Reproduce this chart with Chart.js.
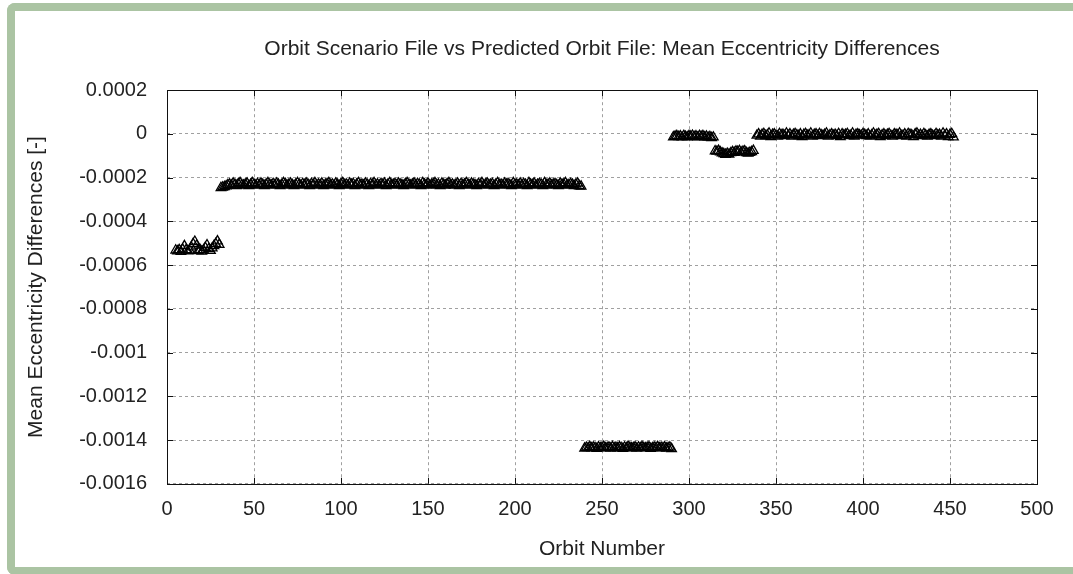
<!DOCTYPE html>
<html>
<head>
<meta charset="utf-8">
<script src="https://cdn.jsdelivr.net/npm/chart.js@4/dist/chart.umd.min.js"></script>
<style>
  html, body { margin: 0; padding: 0; background: #fff; overflow: hidden; }
  #frame {
    position: absolute; left: 7px; top: 3px; width: 1100px; height: 556px;
    border: 8px solid #abc4a3; border-right: none; border-radius: 8px 0 0 8px;
  }
  #chart { position: absolute; left: 0; top: 0; }
</style>
</head>
<body>
<div id="frame"></div>
<canvas id="chart" width="1073" height="574"></canvas>
<script>
// orbit segments: first orbit number + one value per orbit
const seg1Start = 5;
const seg1 = [
  -5.32e-4, -5.36e-4, -5.30e-4, -5.38e-4, -5.28e-4, -5.12e-4, -5.30e-4, -5.36e-4, -5.33e-4, -5.18e-4, -5.02e-4, -4.92e-4, -5.10e-4,
  -5.35e-4, -5.30e-4, -5.37e-4, -5.31e-4, -5.20e-4, -5.08e-4, -5.26e-4, -5.34e-4, -5.22e-4, -5.12e-4, -5.02e-4, -4.90e-4, -5.06e-4
];

const seg2Start = 31;
const seg2 = [
  -2.46e-4, -2.44e-4, -2.42e-4, -2.38e-4, -2.33e-4, -2.30e-4, -2.35e-4, -2.26e-4, -2.31e-4, -2.37e-4, -2.28e-4, -2.24e-4, -2.33e-4,
  -2.35e-4, -2.30e-4, -2.26e-4, -2.37e-4, -2.31e-4, -2.24e-4, -2.30e-4, -2.35e-4, -2.28e-4, -2.33e-4, -2.26e-4, -2.31e-4, -2.37e-4,
  -2.30e-4, -2.24e-4, -2.31e-4, -2.35e-4, -2.28e-4, -2.33e-4, -2.26e-4, -2.30e-4, -2.37e-4, -2.31e-4, -2.24e-4, -2.28e-4, -2.35e-4,
  -2.31e-4, -2.26e-4, -2.33e-4, -2.37e-4, -2.30e-4, -2.24e-4, -2.31e-4, -2.35e-4, -2.28e-4, -2.33e-4, -2.26e-4, -2.30e-4, -2.37e-4,
  -2.28e-4, -2.31e-4, -2.24e-4, -2.35e-4, -2.30e-4, -2.33e-4, -2.26e-4, -2.37e-4, -2.31e-4, -2.28e-4, -2.24e-4, -2.33e-4, -2.30e-4,
  -2.35e-4, -2.26e-4, -2.31e-4, -2.37e-4, -2.28e-4, -2.24e-4, -2.33e-4, -2.30e-4, -2.35e-4, -2.26e-4, -2.31e-4, -2.28e-4, -2.37e-4,
  -2.30e-4, -2.24e-4, -2.33e-4, -2.31e-4, -2.35e-4, -2.26e-4, -2.30e-4, -2.37e-4, -2.28e-4, -2.31e-4, -2.24e-4, -2.33e-4, -2.30e-4,
  -2.35e-4, -2.28e-4, -2.31e-4, -2.26e-4, -2.37e-4, -2.30e-4, -2.24e-4, -2.33e-4, -2.31e-4, -2.28e-4, -2.35e-4, -2.26e-4, -2.30e-4,
  -2.33e-4, -2.37e-4, -2.28e-4, -2.24e-4, -2.31e-4, -2.35e-4, -2.30e-4, -2.26e-4, -2.33e-4, -2.28e-4, -2.31e-4, -2.37e-4, -2.24e-4,
  -2.30e-4, -2.33e-4, -2.26e-4, -2.35e-4, -2.31e-4, -2.28e-4, -2.24e-4, -2.33e-4, -2.30e-4, -2.37e-4, -2.26e-4, -2.31e-4, -2.35e-4,
  -2.28e-4, -2.24e-4, -2.33e-4, -2.30e-4, -2.35e-4, -2.31e-4, -2.26e-4, -2.37e-4, -2.28e-4, -2.33e-4, -2.30e-4, -2.24e-4, -2.31e-4,
  -2.35e-4, -2.26e-4, -2.30e-4, -2.33e-4, -2.37e-4, -2.28e-4, -2.31e-4, -2.24e-4, -2.35e-4, -2.30e-4, -2.26e-4, -2.33e-4, -2.31e-4,
  -2.28e-4, -2.37e-4, -2.30e-4, -2.24e-4, -2.33e-4, -2.31e-4, -2.35e-4, -2.26e-4, -2.30e-4, -2.28e-4, -2.33e-4, -2.37e-4, -2.24e-4,
  -2.31e-4, -2.30e-4, -2.35e-4, -2.26e-4, -2.33e-4, -2.28e-4, -2.31e-4, -2.37e-4, -2.24e-4, -2.30e-4, -2.33e-4, -2.26e-4, -2.35e-4,
  -2.31e-4, -2.28e-4, -2.30e-4, -2.37e-4, -2.24e-4, -2.33e-4, -2.31e-4, -2.26e-4, -2.35e-4, -2.30e-4, -2.28e-4, -2.33e-4, -2.37e-4,
  -2.26e-4, -2.31e-4, -2.30e-4, -2.24e-4, -2.35e-4, -2.33e-4, -2.28e-4, -2.31e-4, -2.37e-4, -2.30e-4, -2.26e-4, -2.38e-4, -2.40e-4
];

const seg3Start = 240;
const seg3 = [
  -1.438e-3, -1.434e-3, -1.436e-3, -1.431e-3, -1.437e-3, -1.433e-3, -1.435e-3, -1.439e-3, -1.432e-3, -1.436e-3, -1.434e-3, -1.430e-3, -1.437e-3,
  -1.435e-3, -1.433e-3, -1.438e-3, -1.431e-3, -1.436e-3, -1.434e-3, -1.437e-3, -1.432e-3, -1.435e-3, -1.439e-3, -1.433e-3, -1.436e-3, -1.430e-3,
  -1.434e-3, -1.437e-3, -1.435e-3, -1.432e-3, -1.438e-3, -1.433e-3, -1.436e-3, -1.431e-3, -1.435e-3, -1.437e-3, -1.434e-3, -1.432e-3, -1.439e-3,
  -1.436e-3, -1.433e-3, -1.435e-3, -1.431e-3, -1.437e-3, -1.434e-3, -1.436e-3, -1.432e-3, -1.438e-3, -1.435e-3, -1.433e-3, -1.440e-3
];

const seg4Start = 291;
const seg4 = [
  -1.4e-5, -1.1e-5, -0.9e-5, -1.3e-5, -1.0e-5, -1.5e-5, -0.8e-5, -1.2e-5, -1.4e-5, -0.9e-5, -1.1e-5, -0.7e-5,
  -1.3e-5, -1.0e-5, -1.5e-5, -0.8e-5, -1.2e-5, -0.9e-5, -1.4e-5, -1.1e-5, -1.6e-5, -1.3e-5, -1.8e-5, -1.5e-5
];

const seg5Start = 315;
const seg5 = [
  -7.8e-5, -8.0e-5, -7.6e-5, -8.3e-5, -8.8e-5, -9.1e-5, -9.4e-5, -9.0e-5, -9.3e-5, -8.7e-5, -8.2e-5, -8.5e-5,
  -7.9e-5, -8.1e-5, -7.7e-5, -8.4e-5, -8.0e-5, -7.8e-5, -8.6e-5, -8.9e-5, -8.5e-5, -8.2e-5, -7.6e-5
];

const seg6Start = 339;
const seg6 = [
  -7e-6, -1e-6, -11e-6, -3e-6, 1e-6, -9e-6, -5e-6, 3e-6, -13e-6, -3e-6, -1e-6, -7e-6, -11e-6, 1e-6, -5e-6, -3e-6, -9e-6, 3e-6, -7e-6, -1e-6,
  -11e-6, -3e-6, 1e-6, -5e-6, -9e-6, -1e-6, -13e-6, -3e-6, 1e-6, -7e-6, -5e-6, 3e-6, -11e-6, -3e-6, -1e-6, -9e-6, 1e-6, -5e-6, -7e-6, -3e-6,
  3e-6, -11e-6, -5e-6, -1e-6, -7e-6, -3e-6, -9e-6, 1e-6, -13e-6, -1e-6, -5e-6, -3e-6, 1e-6, -9e-6, -7e-6, 3e-6, -11e-6, -3e-6, -1e-6, -5e-6,
  -7e-6, 1e-6, -3e-6, -9e-6, -1e-6, -11e-6, -5e-6, 3e-6, -7e-6, -3e-6, 1e-6, -13e-6, -5e-6, -1e-6, -9e-6, -3e-6, 1e-6, -7e-6, -11e-6, -1e-6,
  -3e-6, -5e-6, 3e-6, -9e-6, -7e-6, -1e-6, -11e-6, 1e-6, -3e-6, -5e-6, -13e-6, -1e-6, 3e-6, -7e-6, -3e-6, -9e-6, 1e-6, -5e-6, -11e-6, -3e-6,
  -1e-6, -7e-6, -9e-6, 1e-6, -5e-6, -3e-6, -11e-6, 3e-6, -7e-6, -1e-6, -13e-6, -3e-6, 1e-6, -15e-6
];

const xTicks = [0, 50, 100, 150, 200, 250, 300, 350, 400, 450, 500];
const yTicks = [0.0002, 0, -0.0002, -0.0004, -0.0006, -0.0008, -0.001, -0.0012, -0.0014, -0.0016];

const TITLE = 'Orbit Scenario File vs Predicted Orbit File: Mean Eccentricity Differences';
const X_TITLE = 'Orbit Number';
const Y_TITLE = 'Mean Eccentricity Differences [-]';

const FONT = 'Liberation Sans, Arial, sans-serif';
const TEXT = '#222';

const points = [];
[[seg1Start, seg1], [seg2Start, seg2], [seg3Start, seg3], [seg4Start, seg4], [seg5Start, seg5], [seg6Start, seg6]]
  .forEach(([start, vals]) => vals.forEach((v, i) => points.push({ x: start + i, y: v })));

// box around the plot with inward tick marks on all four sides
const frameBox = {
  id: 'frameBox',
  afterDraw(chart) {
    const { ctx, chartArea: a, scales } = chart;
    ctx.save();
    ctx.setLineDash([]);
    ctx.strokeStyle = '#111';
    ctx.lineWidth = 1;
    ctx.strokeRect(Math.round(a.left) + 0.5, Math.round(a.top) + 0.5,
      Math.round(a.right - a.left), Math.round(a.bottom - a.top));
    ctx.beginPath();
    const len = 6;
    xTicks.forEach(t => {
      const px = Math.round(scales.x.getPixelForValue(t)) + 0.5;
      ctx.moveTo(px, a.bottom); ctx.lineTo(px, a.bottom - len);
      ctx.moveTo(px, a.top); ctx.lineTo(px, a.top + len);
    });
    yTicks.forEach(t => {
      const py = Math.round(scales.y.getPixelForValue(t)) + 0.5;
      ctx.moveTo(a.left, py); ctx.lineTo(a.left + len, py);
      ctx.moveTo(a.right, py); ctx.lineTo(a.right - len, py);
    });
    ctx.stroke();
    ctx.restore();
  }
};

new Chart(document.getElementById('chart'), {
  type: 'scatter',
  data: {
    datasets: [{
      data: points,
      pointStyle: 'triangle',
      pointRadius: 5.5,
      pointBorderWidth: 1.3,
      pointBorderColor: '#000',
      pointBackgroundColor: 'rgba(0,0,0,0)'
    }]
  },
  options: {
    responsive: false,
    animation: false,
    layout: { padding: { left: 20, right: 36, top: 0, bottom: 8 } },
    plugins: {
      legend: { display: false },
      tooltip: { enabled: false },
      title: {
        display: true,
        text: TITLE,
        fullSize: false,
        color: TEXT,
        font: { family: FONT, size: 21, weight: 'normal' },
        padding: { top: 37, bottom: 28 }
      }
    },
    scales: {
      x: {
        type: 'linear',
        min: 0, max: 500,
        afterBuildTicks: s => { s.ticks = xTicks.map(v => ({ value: v })); },
        grid: { color: '#a0a0a0', drawTicks: false, lineWidth: 1 },
        border: { display: false, dash: [3, 3] },
        ticks: { color: TEXT, font: { family: FONT, size: 20 }, padding: 14, maxRotation: 0 },
        title: { display: true, text: X_TITLE, color: TEXT, font: { family: FONT, size: 21 }, padding: { top: 1, bottom: 4 } }
      },
      y: {
        type: 'linear',
        min: -0.0016, max: 0.0002,
        afterBuildTicks: s => { s.ticks = yTicks.map(v => ({ value: v })); },
        afterFit: s => { s.width = 147; },
        grid: { color: '#a0a0a0', drawTicks: false, lineWidth: 1 },
        border: { display: false, dash: [3, 3] },
        ticks: {
          color: TEXT, font: { family: FONT, size: 20 }, padding: 20,
          callback: v => { const n = +Number(v).toFixed(4); return n === 0 ? '0' : String(n); }
        },
        title: { display: true, text: Y_TITLE, color: TEXT, font: { family: FONT, size: 21 }, padding: 4 }
      }
    }
  },
  plugins: [frameBox]
});
</script>
</body>
</html>
